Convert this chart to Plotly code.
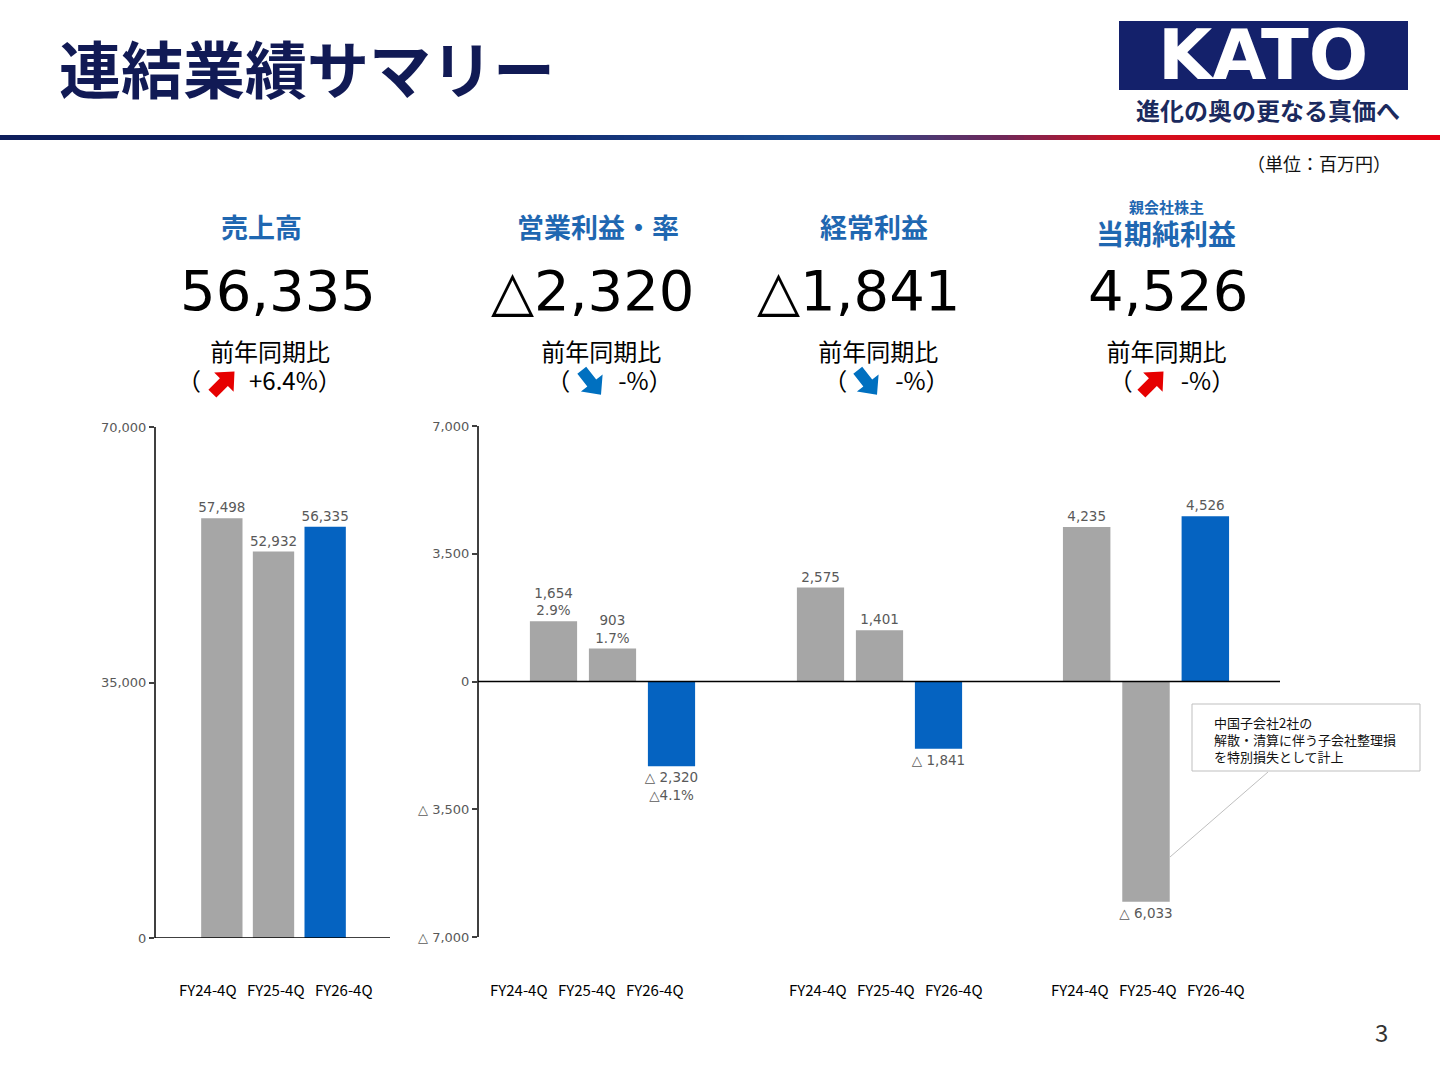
import plotly.graph_objects as go
import math

# ---------------- data ----------------
categories = ["FY24-4Q", "FY25-4Q", "FY26-4Q"]
sales = [57498, 52932, 56335]
operating_profit = [1654, 903, -2320]
operating_margin = [2.9, 1.7, -4.1]
ordinary_profit = [2575, 1401, -1841]
net_profit = [4235, -6033, 4526]

kpi_titles = ["売上高", "営業利益・率", "経常利益", "当期純利益"]
kpi_subtitle = "親会社株主"
yoy_label = "前年同期比"
yoy_values = ["+6.4%", "-%", "-%", "-%"]
yoy_up = [True, False, False, True]

left_ticks = [0, 35000, 70000]
mid_ticks = [-7000, -3500, 0, 3500, 7000]

title_text = "連結業績サマリー"
unit_text = "（単位：百万円）"
logo_text = "KATO"
tagline = "進化の奥の更なる真価へ"
callout_lines = ["中国子会社2社の", "解散・清算に伴う子会社整理損", "を特別損失として計上"]
page_no = "3"

# ---------------- style ----------------
W, H = 1440, 1080
GRAY = "#A6A6A6"
BLUE = "#0563C1"
NAVY = "#111A55"
KPI_BLUE = "#1F67B1"
LABEL_GRAY = "#595959"
AXIS = "#404040"
JP = "Noto Sans CJK JP"
NUM = "DejaVu Sans"


def px(x):
    return x / W


def py(y):
    return 1 - y / H


def tri(v):
    return ("△ " + f"{abs(v):,}") if v < 0 else f"{v:,}"


def tri_big(v):
    return ("△" + f"{abs(v):,}") if v < 0 else f"{v:,}"


def pct(v):
    return ("△" + f"{abs(v):.1f}%") if v < 0 else f"{v:.1f}%"


colors = [GRAY, GRAY, BLUE]

fig = go.Figure()

bar_common = dict(
    marker=dict(color=colors, line=dict(width=0)),
    textposition="outside",
    textfont=dict(family=NUM, size=13.5, color=LABEL_GRAY),
    cliponaxis=False,
    constraintext="none",
    hoverinfo="skip",
    showlegend=False,
)

fig.add_trace(go.Bar(x=categories, y=sales, text=[tri(v) for v in sales],
                     xaxis="x", yaxis="y", **bar_common))
fig.add_trace(go.Bar(x=categories, y=operating_profit,
                     text=[tri(v) + "<br>" + pct(m) for v, m in zip(operating_profit, operating_margin)],
                     xaxis="x2", yaxis="y2", **bar_common))
fig.add_trace(go.Bar(x=categories, y=ordinary_profit, text=[tri(v) for v in ordinary_profit],
                     xaxis="x3", yaxis="y3", **bar_common))
fig.add_trace(go.Bar(x=categories, y=net_profit, text=[tri(v) for v in net_profit],
                     xaxis="x4", yaxis="y4", **bar_common))

ydom_left = [py(938), py(427)]
ydom_mid = [py(937), py(426)]

hidden_x = dict(showticklabels=False, showline=False, showgrid=False, zeroline=False, ticks="",
                automargin=False)
yaxis_style = dict(showline=True, linecolor=AXIS, linewidth=2, ticks="outside", ticklen=5,
                   tickcolor=AXIS, tickwidth=2, showgrid=False, zeroline=False, automargin=False,
                   tickfont=dict(family=NUM, size=13, color=LABEL_GRAY))

fig.update_layout(
    width=W, height=H,
    margin=dict(l=0, r=0, t=0, b=0, pad=0, autoexpand=False),
    paper_bgcolor="white", plot_bgcolor="white",
    bargap=0.2,
    xaxis=dict(domain=[px(196), px(351)], anchor="y", **hidden_x),
    yaxis=dict(domain=ydom_left, range=[0, 70000], anchor="free", position=px(155),
               tickvals=left_ticks, ticktext=[f"{v:,}" for v in left_ticks], **yaxis_style),
    xaxis2=dict(domain=[px(524), px(701)], anchor="y2", **hidden_x),
    yaxis2=dict(domain=ydom_mid, range=[-7000, 7000], anchor="free", position=px(478),
                tickvals=mid_ticks, ticktext=[tri(v) for v in mid_ticks], **yaxis_style),
    xaxis3=dict(domain=[px(791), px(968)], anchor="y3", **hidden_x),
    yaxis3=dict(domain=ydom_mid, range=[-7000, 7000], visible=False, anchor="x3", automargin=False),
    xaxis4=dict(domain=[px(1057), px(1235)], anchor="y4", **hidden_x),
    yaxis4=dict(domain=ydom_mid, range=[-7000, 7000], visible=False, anchor="x4", automargin=False),
)

shapes = []
# baselines
shapes.append(dict(type="line", xref="paper", yref="y", x0=px(155), x1=px(390), y0=0, y1=0,
                   line=dict(color="#000000", width=1.5)))
shapes.append(dict(type="line", xref="paper", yref="y2", x0=px(478), x1=px(1280), y0=0, y1=0,
                   line=dict(color="#000000", width=1.5)))

# header gradient rule
stops = [(0, (14, 30, 91)), (500, (16, 37, 106)), (820, (28, 79, 149)),
         (1000, (110, 40, 90)), (1130, (210, 16, 30)), (1440, (230, 0, 18))]


def grad_color(x):
    for (x0, c0), (x1, c1) in zip(stops[:-1], stops[1:]):
        if x0 <= x <= x1:
            t = (x - x0) / (x1 - x0)
            c = [round(a + (b - a) * t) for a, b in zip(c0, c1)]
            return f"rgb({c[0]},{c[1]},{c[2]})"
    return "rgb(230,0,18)"


step = 8
for xs in range(0, W, step):
    shapes.append(dict(type="rect", xref="paper", yref="paper", x0=px(xs), x1=px(xs + step + 0.5),
                       y0=py(140), y1=py(135), line=dict(width=0),
                       fillcolor=grad_color(xs + step / 2), layer="above"))

# logo box
shapes.append(dict(type="rect", xref="paper", yref="paper", x0=px(1119), x1=px(1408),
                   y0=py(90), y1=py(21), line=dict(width=0), fillcolor="#14216B"))

# callout
shapes.append(dict(type="line", xref="paper", yref="paper", x0=px(1268), y0=py(772),
                   x1=px(1170), y1=py(857), line=dict(color="#BFBFBF", width=1)))
shapes.append(dict(type="rect", xref="paper", yref="paper", x0=px(1192), x1=px(1420),
                   y0=py(771), y1=py(704), line=dict(color="#BFBFBF", width=1), fillcolor="white"))


def arrow_path(cx, cy, ang, s):
    pts = [(-12, -4.5), (1, -4.5), (1, -11), (13, 0), (1, 11), (1, 4.5), (-12, 4.5)]
    a = math.radians(ang)
    out = []
    for x, y in pts:
        xr = (x * math.cos(a) - y * math.sin(a)) * s + cx
        yr = (x * math.sin(a) + y * math.cos(a)) * s + cy
        out.append(f"{px(xr):.5f},{py(yr):.5f}")
    return "M " + " L ".join(out) + " Z"


arrow_pos = [(223, 383), (591, 382), (867, 382), (1152, 383)]
for (cx, cy), up in zip(arrow_pos, yoy_up):
    shapes.append(dict(type="path", xref="paper", yref="paper",
                       path=arrow_path(cx, cy, -45 if up else 52, 1.25),
                       fillcolor="#E60000" if up else "#0070C0", line=dict(width=0)))

fig.update_layout(shapes=shapes)

ann = []


def text(x, y, t, size, color="#000000", family=JP, xanchor="center", yanchor="middle",
         weight="normal", align="center"):
    ann.append(dict(x=px(x), y=py(y), xref="paper", yref="paper", text=t, showarrow=False,
                    xanchor=xanchor, yanchor=yanchor, align=align, valign="middle",
                    font=dict(family=family, size=size, color=color, weight=weight)))


def span(t, size):
    return f"<span style='font-size:{size}px'>{t}</span>"


# title and logo
text(57, 67, title_text, 62, NAVY, xanchor="left", weight="bold")
text(1263, 55, logo_text, 70, "white", family=NUM, weight="bold")
text(1268, 109, tagline, 24, "#1B2A5E", weight="bold")
text(1319, 163, unit_text, 18, "#111111")

# KPI block
latest = [tri_big(sales[-1]), tri_big(operating_profit[-1]), tri_big(ordinary_profit[-1]),
          tri_big(net_profit[-1])]
title_x = [261, 598, 874, 1166]
title_y = [226, 226, 226, 233]
title_sz = [27, 27, 27, 28]
num_x = [278, 592, 858, 1168]
yoy_x = [270, 601, 878, 1166]
NB = "\u00a0"
GAP = "\u3000\u3000"
lead = [0, 3, 3, 2]
trail = [4, 0, 0, 0]
for i in range(4):
    text(title_x[i], title_y[i], kpi_titles[i], title_sz[i], KPI_BLUE, weight="bold")
    text(num_x[i], 291, latest[i], 56, "#000000", family=NUM)
    line2 = NB * lead[i] + "（" + GAP + yoy_values[i] + "）" + NB * trail[i]
    text(yoy_x[i], 365, span(yoy_label, 24) + "<br>" + span(line2, 24), 22, "#000000")
text(1166, 206, kpi_subtitle, 15, KPI_BLUE, weight="bold")

# category labels row
group_centers = [276, 587, 886, 1148]
for gc in group_centers:
    for j, c in enumerate(categories):
        text(gc + (j - 1) * 68, 989, c, 15, "#000000")

# callout text
text(1212, 711, "<br>".join(callout_lines), 13, "#111111", xanchor="left", yanchor="top",
     align="left")

text(1381, 1031, page_no, 24, "#333333")

fig.update_layout(annotations=ann)

fig.write_html("out.html", config={"displayModeBar": False})
